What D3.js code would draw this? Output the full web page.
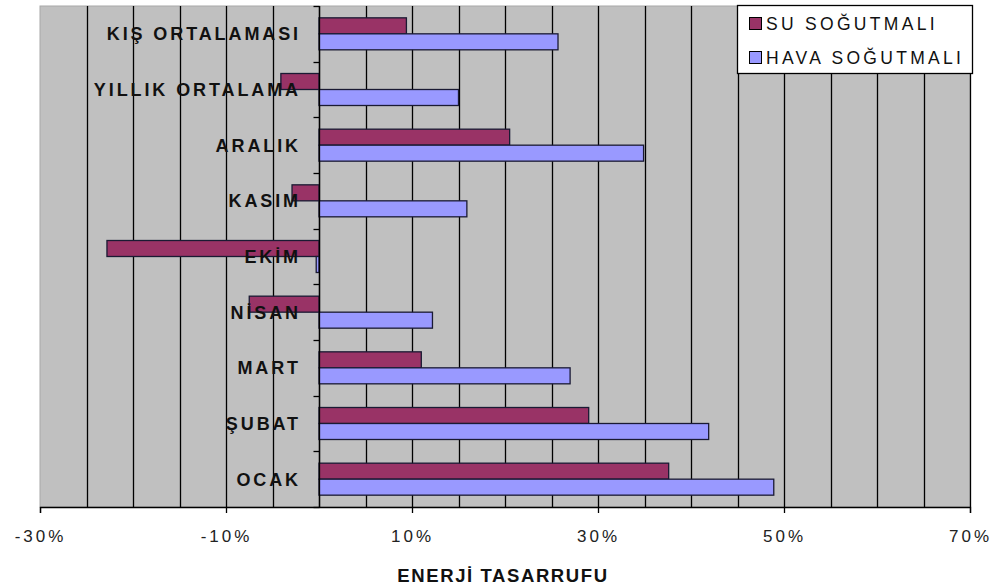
<!DOCTYPE html>
<html>
<head>
<meta charset="utf-8">
<script src="https://cdn.jsdelivr.net/npm/d3@7/dist/d3.min.js"></script>
<style>
  html, body { margin: 0; padding: 0; background: #ffffff; }
  svg { display: block; }
</style>
</head>
<body>
<svg id="chart" width="991" height="587"></svg>
<script>
// Categories, top to bottom as drawn
const categories = ["KIŞ ORTALAMASI", "YILLIK ORTALAMA", "ARALIK", "KASIM", "EKİM", "NİSAN", "MART", "ŞUBAT", "OCAK"];
const seriesNames = ["SU SOĞUTMALI", "HAVA SOĞUTMALI"];
// Energy saving (%) per category
const suValues   = [9.4, -4.1, 20.5, -2.9, -22.8, -7.5, 11.0, 29.0, 37.6];
const havaValues = [25.7, 15.0, 34.9, 15.9, -0.3, 12.2, 27.0, 41.9, 48.9];
const tickValues = [-30, -10, 10, 30, 50, 70];
const xTitle = "ENERJİ TASARRUFU";

const colors = { "SU SOĞUTMALI": "#993366", "HAVA SOĞUTMALI": "#9999FF" };

const svg = d3.select("#chart");
const plot = { left: 40, right: 970, top: 6, bottom: 507 };

const x = d3.scaleLinear().domain([-30, 70]).range([plot.left, plot.right]);
const y = d3.scaleBand().domain(categories).range([plot.top, plot.bottom]).padding(0);
const ySub = d3.scaleBand().domain(seriesNames).range([0, y.bandwidth()]).paddingInner(0).paddingOuter(0.74);

// Plot area background
svg.append("rect")
  .attr("x", plot.left).attr("y", plot.top)
  .attr("width", plot.right - plot.left).attr("height", plot.bottom - plot.top)
  .attr("fill", "#C0C0C0").attr("stroke", "#a8a8a8").attr("stroke-width", 1);

// Vertical gridlines every 5%
const grid = d3.range(-25, 70.1, 5);
svg.append("g").selectAll("line").data(grid).join("line")
  .attr("x1", d => Math.round(x(d)) + 0.5).attr("x2", d => Math.round(x(d)) + 0.5)
  .attr("y1", plot.top).attr("y2", plot.bottom)
  .attr("stroke", "#000").attr("stroke-width", 1.3);

// Bars
const rows = categories.map((c, i) => ({ cat: c, vals: [
  { s: seriesNames[0], v: suValues[i] },
  { s: seriesNames[1], v: havaValues[i] }
]}));

const g = svg.append("g");
rows.forEach(r => {
  g.selectAll(null).data(r.vals).join("rect")
    .attr("x", d => x(Math.min(0, d.v)))
    .attr("y", d => y(r.cat) + ySub(d.s))
    .attr("width", d => Math.abs(x(d.v) - x(0)))
    .attr("height", ySub.bandwidth())
    .attr("fill", d => colors[d.s])
    .attr("stroke", "#1a1a33").attr("stroke-width", 1.3);
});

// Vertical category axis at 0%
const yAxisX = Math.round(x(0)) + 0.5;
svg.append("line")
  .attr("x1", yAxisX).attr("x2", yAxisX)
  .attr("y1", plot.top).attr("y2", plot.bottom)
  .attr("stroke", "#000").attr("stroke-width", 1.3);
const boundaries = categories.map(c => y(c)).concat([plot.bottom]);
svg.append("g").selectAll("line").data(boundaries).join("line")
  .attr("x1", yAxisX - 6).attr("x2", yAxisX)
  .attr("y1", d => Math.round(d) + 0.5).attr("y2", d => Math.round(d) + 0.5)
  .attr("stroke", "#000").attr("stroke-width", 1.3);

// Category labels
svg.append("g").selectAll("text").data(categories).join("text")
  .attr("x", 301)
  .attr("y", d => y(d) + y.bandwidth() / 2 + 6.5)
  .attr("text-anchor", "end")
  .attr("font-family", "Liberation Sans, Arial, sans-serif")
  .attr("font-weight", "bold")
  .attr("font-size", 18)
  .attr("letter-spacing", 2.9)
  .attr("fill", "#111")
  .text(d => d);

// Horizontal value axis
const xAxis = d3.axisBottom(x).tickValues(tickValues).tickSize(6).tickFormat(d => d + "%");
const ax = svg.append("g").attr("transform", `translate(0,${plot.bottom})`).call(xAxis);
ax.select(".domain").attr("stroke", "#000").attr("stroke-width", 1.3);
ax.selectAll(".tick line").attr("stroke", "#000").attr("stroke-width", 1.3);
ax.selectAll(".tick text")
  .attr("y", 23)
  .attr("font-family", "Liberation Sans, Arial, sans-serif")
  .attr("font-size", 17)
  .attr("letter-spacing", 3)
  .attr("fill", "#222");

// Axis title
svg.append("text")
  .attr("x", 503).attr("y", 582)
  .attr("text-anchor", "middle")
  .attr("font-family", "Liberation Sans, Arial, sans-serif")
  .attr("font-weight", "bold")
  .attr("font-size", 18.5)
  .attr("letter-spacing", 1.6)
  .attr("fill", "#111")
  .text(xTitle);

// Legend
const lg = svg.append("g");
lg.append("rect")
  .attr("x", 737.5).attr("y", 5.5).attr("width", 235).attr("height", 68)
  .attr("fill", "#fff").attr("stroke", "#000").attr("stroke-width", 1.3);
seriesNames.forEach((s, i) => {
  const yy = 17 + i * 34;
  lg.append("rect")
    .attr("x", 749.5).attr("y", yy + 0.5).attr("width", 12).attr("height", 12)
    .attr("fill", colors[s]).attr("stroke", "#000").attr("stroke-width", 1);
  lg.append("text")
    .attr("x", 766).attr("y", yy + 13)
    .attr("font-family", "Liberation Sans, Arial, sans-serif")
    .attr("font-size", 17.5)
    .attr("letter-spacing", 3.3)
    .attr("fill", "#111")
    .text(s);
});
</script>
</body>
</html>
